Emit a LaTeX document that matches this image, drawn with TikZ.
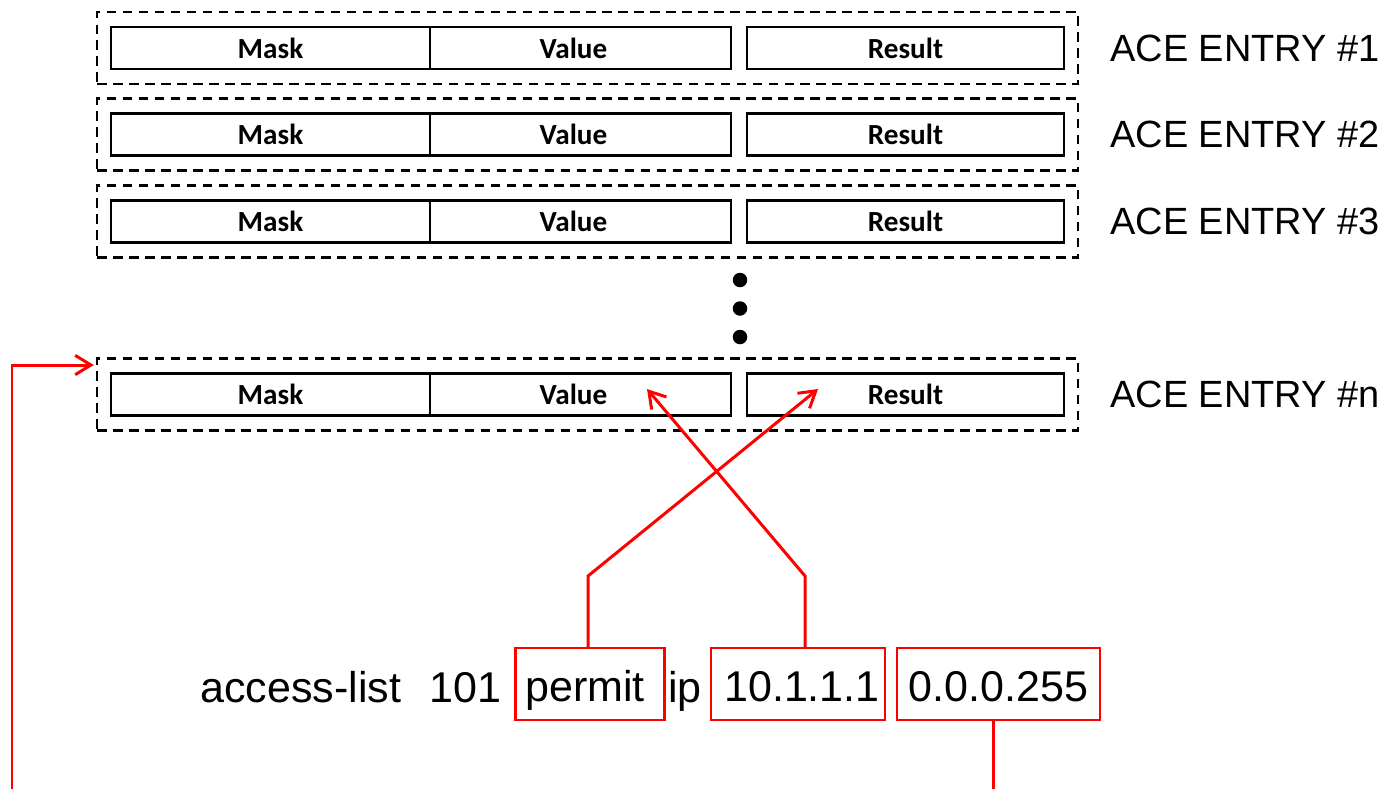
\documentclass[tikz,border=0pt]{standalone}
\usepackage{fontspec}
\setmainfont{Liberation Sans}
\newfontfamily\calfont{Carlito}
\usetikzlibrary{arrows.meta}
\newdimen\pxu \pxu=0.02cm
\begin{document}
\begin{tikzpicture}[x=0.02cm,y=-0.02cm,
  outerbox/.style={draw, line width=1.3pt, dash pattern=on 5.5pt off 3.6pt, minimum width=981\pxu, minimum height=72\pxu, inner sep=0},
  cell/.style={draw, line width=1.3pt, minimum height=42\pxu, inner sep=0, font=\calfont\bfseries\fontsize{16.6}{18}\selectfont},
  acelabel/.style={anchor=west, inner sep=0, font=\fontsize{21.6}{24}\selectfont},
  cmdtext/.style={anchor=base west, inner sep=0, font=\fontsize{24.5}{28}\selectfont},
  redbox/.style={draw=red, line width=1.4pt, minimum height=72\pxu, inner sep=0, text height=24pt, text depth=3.6pt, font=\fontsize{24.5}{28}\selectfont},
  redline/.style={draw=red, line width=1.7pt},
  redarrow/.style={redline, -{Straight Barb[length=9pt, width=11pt, line width=1.7pt]}},
  dot/.style={circle, fill=black, minimum size=14.5\pxu, inner sep=0}]
\useasboundingbox (0,0) rectangle (1398,789);
\fill[white] (0,0) rectangle (1398,789);
\foreach \r/\y in {1/48, 2/134.5, 3/221.5, n/394.5}{
  \node[outerbox] (outer\r) at (587.5,\y) {};
  \node[cell, minimum width=319\pxu] (mask\r) at (270.5,\y) {Mask};
  \node[cell, minimum width=301\pxu] (value\r) at (580.5,\y) {Value\kern14\pxu};
  \node[cell, minimum width=317\pxu] (result\r) at (905.5,\y) {Result};
  \node[acelabel] (lab\r) at (1110,\y) {ACE ENTRY \#\r};
}
\node[dot] (d1) at (740,280) {};
\node[dot] (d2) at (740,308.5) {};
\node[dot] (d3) at (740,337) {};
% command line
\node[cmdtext] (acl) at (200,702) {access-list};
\node[cmdtext] (num) at (429,702) {101};
\node[redbox, minimum width=149\pxu] (permit) at (590,684) {permit\kern10\pxu};
\node[cmdtext] (ip) at (668,702) {ip};
\node[redbox, minimum width=174\pxu] (addr) at (798,684) {\kern8\pxu 10.1.1.1};
\node[redbox, minimum width=203\pxu] (wild) at (998.5,684) {0.0.0.255};
% connectors
\coordinate (k1) at (588,576);
\coordinate (k2) at (805,576);
\coordinate (tipR) at (818,389);
\coordinate (tipV) at (647,389);
\draw[redarrow] (k1 |- permit.north) -- (k1) -- (tipR);
\draw[redarrow] (k2 |- addr.north) -- (k2) -- (tipV);
\coordinate (b1) at (993,789);
\draw[redline] (b1 |- wild.south) -- (b1);
\coordinate (b2) at (12,789);
\coordinate (k3) at (12,365);
\draw[redarrow] (b2) -- (k3) -- ([xshift=-2\pxu]outern.west |- k3);
\end{tikzpicture}
\end{document}
